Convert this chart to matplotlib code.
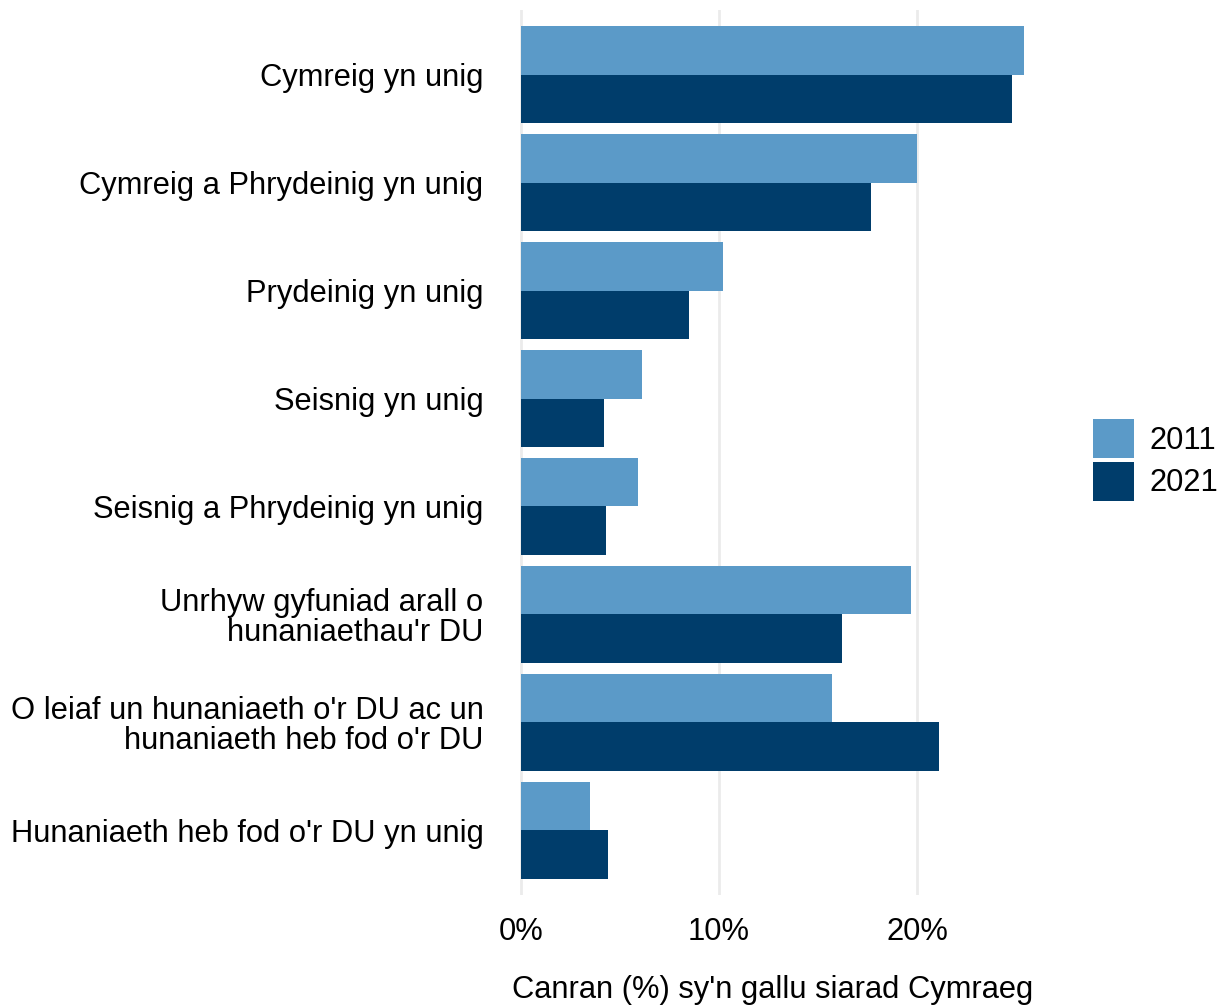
import matplotlib
matplotlib.use("Agg")
import matplotlib.pyplot as plt
from matplotlib.patches import Patch
import numpy as np

plt.rcParams['font.family'] = ['Liberation Sans', 'DejaVu Sans']

categories = [
    "Cymreig yn unig",
    "Cymreig a Phrydeinig yn unig",
    "Prydeinig yn unig",
    "Seisnig yn unig",
    "Seisnig a Phrydeinig yn unig",
    "Unrhyw gyfuniad arall o\nhunaniaethau'r DU",
    "O leiaf un hunaniaeth o'r DU ac un\nhunaniaeth heb fod o'r DU",
    "Hunaniaeth heb fod o'r DU yn unig",
]
years = ["2011", "2021"]
values_2011 = [25.4, 20.0, 10.2, 6.1, 5.9, 19.7, 15.7, 3.5]
values_2021 = [24.8, 17.7, 8.5, 4.2, 4.3, 16.2, 21.1, 4.4]
x_ticks = [0, 10, 20]
x_tick_labels = ["0%", "10%", "20%"]
colors = ["#5b9ac8", "#003d6b"]

FS = 22.2
W, H = 1226, 1006
fig = plt.figure(figsize=(W / 100, H / 100), dpi=100)
ax = fig.add_axes([496 / W, 1 - 895 / H, (1049 - 496) / W, (895 - 10) / H])

y = np.arange(len(categories))
h = 0.45
ax.barh(y - h / 2, values_2011, height=h, color=colors[0], label=years[0], zorder=2)
ax.barh(y + h / 2, values_2021, height=h, color=colors[1], label=years[1], zorder=2)

xmax = max(max(values_2011), max(values_2021))
ax.set_xlim(-0.05 * xmax, 1.05 * xmax)
ax.set_ylim(len(categories) - 0.4, -0.6)

ax.set_yticks(y)
ax.set_yticklabels(categories, fontsize=FS, ha='right', multialignment='right', linespacing=1.02)
ax.set_xticks(x_ticks)
ax.set_xticklabels(x_tick_labels, fontsize=FS)
ax.tick_params(axis='both', length=0, colors='black')
ax.tick_params(axis='y', pad=9)
ax.tick_params(axis='x', pad=16)
ax.set_xlabel("Canran (%) sy'n gallu siarad Cymraeg", fontsize=FS, labelpad=20)

ax.grid(axis='x', color='#ebebeb', linewidth=2, zorder=0)
ax.set_axisbelow(True)
for s in ax.spines.values():
    s.set_visible(False)

handles = [Patch(facecolor=colors[0], edgecolor='none', label=years[0]),
           Patch(facecolor=colors[1], edgecolor='none', label=years[1])]
fig.legend(handles=handles, loc='center left', bbox_to_anchor=(1093 / W, 1 - 460 / H),
           frameon=False, fontsize=FS, handlelength=1.33, handleheight=1.6,
           handletextpad=0.5, labelspacing=0.1, borderpad=0, borderaxespad=0)

fig.savefig("out.png", dpi=100)
